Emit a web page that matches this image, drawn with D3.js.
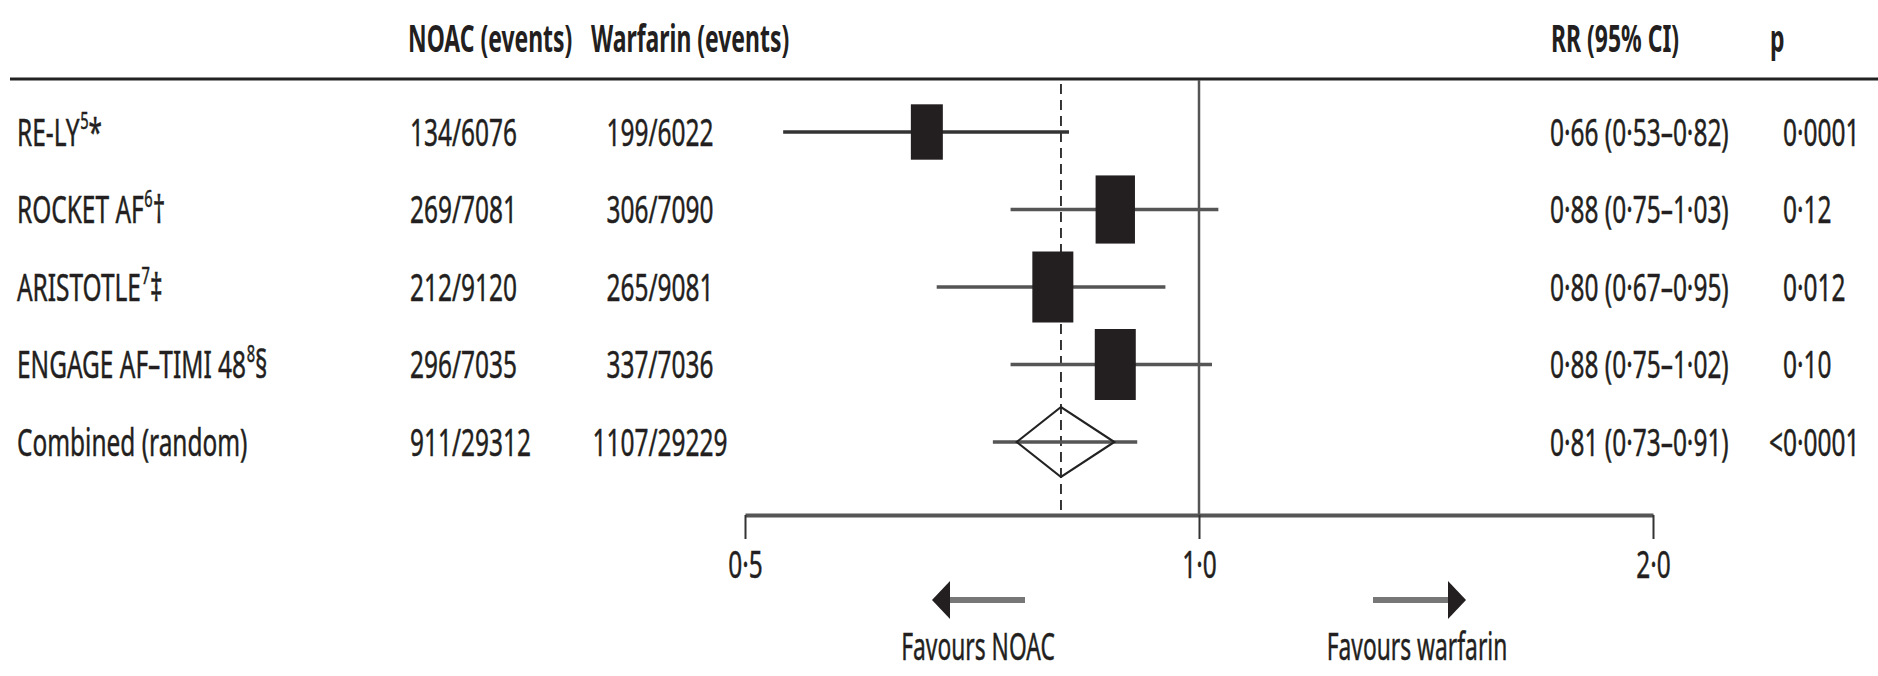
<!DOCTYPE html>
<html>
<head>
<meta charset="utf-8">
<script src="https://cdn.jsdelivr.net/npm/d3@7"></script>
<style>
  html, body { margin: 0; padding: 0; background: #fff; }
  svg text { font-family: "Noto Sans", "Liberation Sans", sans-serif; fill: #231f20; }
  svg text.reg { stroke: #231f20; stroke-width: 0.5px; }
</style>
</head>
<body>
<div id="chart"></div>
<script>
// Data
const studies = ["RE-LY", "ROCKET AF", "ARISTOTLE", "ENGAGE AF–TIMI 48", "Combined (random)"];
const refs = ["5", "6", "7", "8", ""];
const marks = ["*", "†", "‡", "§", ""];
const noacEvents = ["134/6076", "269/7081", "212/9120", "296/7035", "911/29312"];
const warfarinEvents = ["199/6022", "306/7090", "265/9081", "337/7036", "1107/29229"];
const rr = [0.66, 0.88, 0.80, 0.88, 0.81];
const ciLow = [0.53, 0.75, 0.67, 0.75, 0.73];
const ciHigh = [0.82, 1.03, 0.95, 1.02, 0.91];
const pValues = ["0·0001", "0·12", "0·012", "0·10", "<0·0001"];
const weights = [0.78, 0.96, 1.0, 1.0];   // relative box size per trial
const tickValues = [0.5, 1, 2];
const tickLabels = ["0·5", "1·0", "2·0"];

const W = 1878, H = 676;
const rowFont = 39, rowSx = 0.627;
const headFont = 37, headSx = 0.62;

const svg = d3.select("#chart")
    .append("svg")
    .attr("width", W)
    .attr("height", H);

svg.append("rect").attr("width", W).attr("height", H).attr("fill", "#fff");

// scales
const x = d3.scaleLog().domain([0.5, 2]).range([745, 1653]);
const y = d3.scalePoint().domain(studies).range([132, 442]);
const fmt = v => v.toFixed(2).replace(".", "·");

// condensed text helper
function addText(g, tx, ty, str, size, sx, anchor, weight) {
    return g.append("text")
        .attr("class", weight === "bold" ? "hd" : "reg")
        .attr("transform", `translate(${tx},${ty}) scale(${sx},1)`)
        .attr("dy", "0.357em")
        .attr("text-anchor", anchor || "start")
        .attr("font-size", size)
        .attr("font-weight", weight || "normal")
        .text(str);
}

// Header
const head = svg.append("g");
addText(head, 408, 39, "NOAC (events)", headFont, headSx, "start", "bold");
addText(head, 591, 39, "Warfarin (events)", headFont, headSx, "start", "bold");
addText(head, 1551, 39, "RR (95% CI)", headFont, headSx, "start", "bold");
addText(head, 1770, 39, "p", headFont, headSx, "start", "bold");

svg.append("line")
    .attr("x1", 10).attr("x2", W)
    .attr("y1", 79).attr("y2", 79)
    .attr("stroke", "#222").attr("stroke-width", 3);

// reference lines
svg.append("line")
    .attr("x1", x(1)).attr("x2", x(1))
    .attr("y1", 80).attr("y2", 515)
    .attr("stroke", "#555").attr("stroke-width", 2.5);

svg.append("line")
    .attr("x1", x(rr[4])).attr("x2", x(rr[4]))
    .attr("y1", 84).attr("y2", 515)
    .attr("stroke", "#222").attr("stroke-width", 1.8)
    .attr("stroke-dasharray", "10,6");

// Table columns
const rows = svg.append("g");
studies.forEach((s, i) => {
    const yy = y(s);
    const t = rows.append("text")
        .attr("class", "reg")
        .attr("transform", `translate(17,${yy}) scale(${rowSx},1)`)
        .attr("dy", "0.357em")
        .attr("font-size", rowFont);
    t.append("tspan").text(s);
    if (refs[i]) {
        t.append("tspan").attr("font-size", rowFont * 0.6).attr("dy", "-0.72em").attr("dx", 1).text(refs[i]);
        t.append("tspan").attr("dy", rowFont * 0.6 * 0.72).text(marks[i]);
    }
    addText(rows, 410, yy, noacEvents[i], rowFont, rowSx, "start");
    addText(rows, 660, yy, warfarinEvents[i], rowFont, rowSx, "middle");
    addText(rows, 1550, yy, `${fmt(rr[i])} (${fmt(ciLow[i])}–${fmt(ciHigh[i])})`, rowFont, rowSx, "start");
    const pt = addText(rows, 1783, yy, pValues[i], rowFont, rowSx, "start");
    if (pValues[i].startsWith("<")) {
        const tmp = addText(rows, 0, 0, "<", rowFont, rowSx, "start");
        const w = tmp.node().getComputedTextLength() * rowSx;
        tmp.remove();
        pt.attr("transform", `translate(${1783 - w},${yy}) scale(${rowSx},1)`);
    }
});

// CI lines
const plot = svg.append("g");
plot.selectAll("line.ci")
    .data(studies)
    .join("line")
    .attr("class", "ci")
    .attr("x1", (d, i) => x(ciLow[i]))
    .attr("x2", (d, i) => x(ciHigh[i]))
    .attr("y1", d => y(d))
    .attr("y2", d => y(d))
    .attr("stroke", (d, i) => i === 0 ? "#333" : "#555")
    .attr("stroke-width", 3.5);

// trial boxes
plot.selectAll("rect.box")
    .data(studies.slice(0, 4))
    .join("rect")
    .attr("class", "box")
    .attr("x", (d, i) => x(rr[i]) - 41 * weights[i] / 2)
    .attr("y", (d, i) => y(d) - 71 * weights[i] / 2)
    .attr("width", (d, i) => 41 * weights[i])
    .attr("height", (d, i) => 71 * weights[i])
    .attr("fill", "#231f20");

// combined diamond
const c = 4;
const cx = x(rr[c]);
const left = x(ciLow[c]) + 0.35 * (cx - x(ciLow[c]));
const right = cx + 0.7 * (x(ciHigh[c]) - cx);
const cy = y(studies[c]);
plot.append("path")
    .attr("d", `M${left},${cy}L${cx},${cy - 35}L${right},${cy}L${cx},${cy + 35}Z`)
    .attr("fill", "none")
    .attr("stroke", "#222")
    .attr("stroke-width", 2.2);

// axis
const axis = svg.append("g")
    .attr("transform", "translate(0,515)")
    .call(d3.axisBottom(x).tickValues(tickValues).tickSize(24).tickSizeOuter(0)
        .tickFormat((d, i) => tickLabels[i]));
axis.select(".domain").attr("stroke", "#555").attr("stroke-width", 4);
axis.selectAll(".tick line").attr("stroke", "#333").attr("stroke-width", 2);
axis.selectAll(".tick text")
    .attr("class", "reg")
    .attr("y", null)
    .attr("dy", "0.357em")
    .attr("transform", `translate(0,49) scale(${rowSx},1)`)
    .attr("font-size", rowFont)
    .attr("font-family", null)
    .attr("fill", "#231f20");

// favours arrows
const arrowY = 600;
const arrows = svg.append("g");
const shaftGap = 174, tipGap = 267;
[-1, 1].forEach(dir => {
    const base = x(1);
    arrows.append("line")
        .attr("x1", base + dir * shaftGap)
        .attr("x2", base + dir * (tipGap - 16))
        .attr("y1", arrowY).attr("y2", arrowY)
        .attr("stroke", "#777").attr("stroke-width", 6);
    const tip = base + dir * tipGap;
    const back = tip - dir * 18;
    arrows.append("path")
        .attr("d", `M${tip},${arrowY}L${back},${arrowY - 19}L${back},${arrowY + 19}Z`)
        .attr("fill", "#231f20");
});
addText(arrows, x(1) - 221, 646, "Favours NOAC", 39, 0.585, "middle");
addText(arrows, x(1) + 218, 646, "Favours warfarin", 39, 0.585, "middle");
</script>
</body>
</html>
